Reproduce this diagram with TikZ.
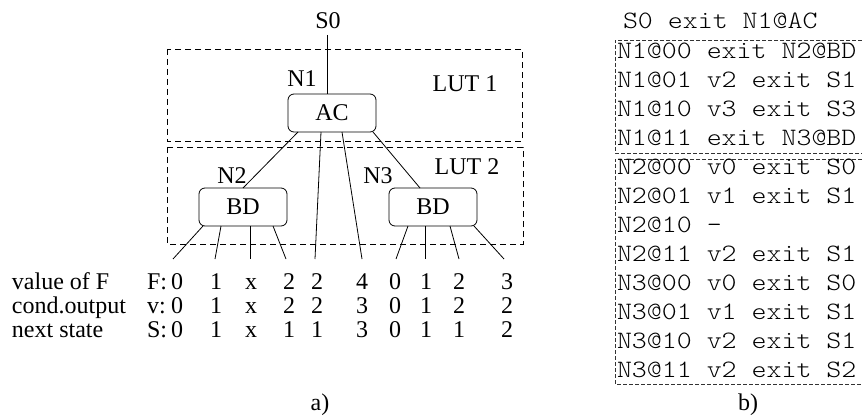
\documentclass[tikz,border=0pt]{standalone}
\usepackage{fontspec}
\setmainfont{Liberation Serif}
\newfontfamily\codefont{Latin Modern Mono Light}[FakeStretch=1.14]
\usetikzlibrary{calc}
\begin{document}
\begin{tikzpicture}[x=1pt,y=-1pt,
  every node/.style={inner sep=0pt, outer sep=0pt},
  lbl/.style={font=\fontsize{24}{24}\selectfont, anchor=base},
  lblw/.style={font=\fontsize{24}{24}\selectfont, anchor=base west},
  code/.style={font=\codefont\fontsize{25}{25}\selectfont, anchor=base west},
  bdd/.style={draw, rounded corners=6pt, minimum width=88pt, minimum height=38pt,
              line width=0.8pt, font=\fontsize{24}{24}\selectfont},
  lut/.style={draw, dash pattern=on 6pt off 4pt, line width=0.9pt},
  part/.style={draw=black!80, dash pattern=on 4pt off 2pt, line width=0.8pt},
  wire/.style={line width=0.8pt}]
\useasboundingbox (0,0) rectangle (862,417);

% ---------- a) decision diagram ----------
\draw[lut] (167,49) rectangle (522,141);
\draw[lut] (167,147) rectangle (523,244);
\node[lbl] (lut1) at (465,92) {LUT 1};
\node[lbl] (lut2) at (467,175) {LUT 2};

\node[lbl] (s0) at (328,29) {S0};
\node[bdd] (ac) at (332,113) {AC};
\node[bdd] (bdl) at (243,207) {BD};
\node[bdd] (bdr) at (433,207) {BD};
\node[lbl] (n1) at (302,87) {N1};
\node[lbl] (n2) at (232,183) {N2};
\node[lbl] (n3) at (378,183) {N3};

% entry into the root node
\coordinate (s0b) at (327,35);
\draw[wire] (s0b) -- (s0b |- ac.north);
\draw[wire] ($(ac.south west)+(10,0)$) -- ($(bdl.north west)+(44,0)$);
\draw[wire] ($(ac.south east)+(-3,0)$) -- ($(bdr.north west)+(31,0)$);

% leaf ends of the diagram, one per column
\foreach \i/\ex in {1/173,2/215,3/250,4/286,5/315,6/362,7/396,8/425,9/459,10/504}
  \coordinate (e\i) at (\ex,259);

\draw[wire] ($(ac.south west)+(33,0)$) -- (e5);
\draw[wire] ($(ac.south west)+(54,0)$) -- (e6);
\foreach \o/\i in {4/1,22/2,51/3,74/4}
  \draw[wire] ($(bdl.south west)+(\o,0)$) -- (e\i);
\foreach \o/\i in {19/7,36/8,61/9,85/10}
  \draw[wire] ($(bdr.south west)+(\o,0)$) -- (e\i);

% value table under the leaves
\node[lblw] (rowF) at (12,289) {value of F};
\node[lblw] (rowV) at (12,313) {cond.output};
\node[lblw] (rowS) at (12,337) {next state};
\node[lblw] (keyF) at (147,289) {F:};
\node[lblw] (keyV) at (147,313) {v:};
\node[lblw] (keyS) at (147,337) {S:};
\foreach \x/\f/\v/\s [count=\i] in {177/0/0/0, 216/1/1/1, 251/x/x/x, 289/2/2/1, 317/2/2/1,
                                    362/4/3/3, 395/0/0/0, 426/1/1/1, 459/2/2/1, 507/3/2/2} {
  \node[lbl] (f\i) at (\x,289) {\f};
  \node[lbl] (v\i) at (\x,313) {\v};
  \node[lbl] (s\i) at (\x,337) {\s};
}
\node[lbl] (capa) at (320,410) {a)};

% ---------- b) table listing ----------
\draw[part] (862,40) -- (615,40) -- (615,153) -- (862,153);
\draw[part] (862,159) -- (615,159) -- (615,384) -- (862,384);
\node[code] (r0) at (623,29) {S0 exit N1@AC};
\foreach \t [count=\k] in {N1@00 exit N2@BD, N1@01 v2 exit S1, N1@10 v3 exit S3,
                           N1@11 exit N3@BD, N2@00 v0 exit S0, N2@01 v1 exit S1,
                           N2@10 -, N2@11 v2 exit S1, N3@00 v0 exit S0,
                           N3@01 v1 exit S1, N3@10 v2 exit S1, N3@11 v2 exit S2}
  \node[code] (r\k) at (617,29+29.07*\k) {\t};
\node[lbl] (capb) at (748,410) {b)};
\end{tikzpicture}
\end{document}
